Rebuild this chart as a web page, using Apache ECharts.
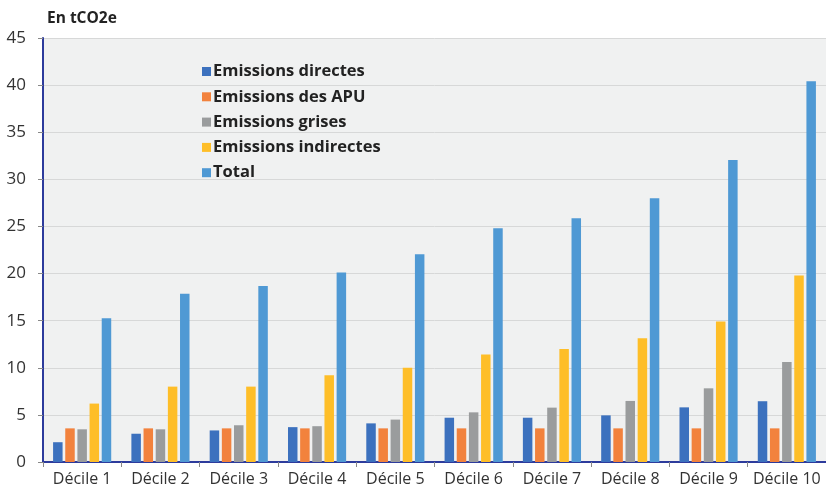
<!DOCTYPE html>
<html><head><meta charset="utf-8">
<script src="https://cdn.jsdelivr.net/npm/echarts@6/dist/echarts.min.js"></script>
<style>html,body{margin:0;padding:0;background:#fff}#c{width:826px;height:491px}</style>
</head><body><div id="c"></div>
<script>
const categories = ['Décile 1','Décile 2','Décile 3','Décile 4','Décile 5','Décile 6','Décile 7','Décile 8','Décile 9','Décile 10'];
const directes   = [2.1, 3.0, 3.35, 3.7, 4.1, 4.7, 4.7, 4.95, 5.8, 6.45];
const apu        = [3.57, 3.57, 3.57, 3.57, 3.57, 3.57, 3.57, 3.57, 3.57, 3.57];
const grises     = [3.47, 3.47, 3.9, 3.8, 4.5, 5.27, 5.77, 6.48, 7.82, 10.6];
const indirectes = [6.2, 8.0, 8.0, 9.2, 10.0, 11.4, 12.0, 13.13, 14.9, 19.8];
const total      = [15.25, 17.85, 18.68, 20.1, 22.05, 24.8, 25.87, 28.0, 32.05, 40.4];
const yTicks = [0,5,10,15,20,25,30,35,40,45];

const names = ['Emissions directes','Emissions des APU','Emissions grises','Emissions indirectes','Total'];
const colors = ['#3C71BE','#F2823D','#9A9C9D','#FEBE28','#4F99D4'];
const values = [directes, apu, grises, indirectes, total];
const FONT = '"Open Sans", "DejaVu Sans", sans-serif';

const chart = echarts.init(document.getElementById('c'), null, {renderer:'canvas'});
chart.setOption({
  backgroundColor:'#fff',
  animation:false,
  title:{text:'En tCO2e', left:42, top:6, textStyle:{fontFamily:FONT, fontSize:15.5, fontWeight:'bold', color:'#222'}},
  legend:{
    orient:'vertical', left:197, top:58, itemWidth:9, itemHeight:9, itemGap:8.3,
    icon:'rect',
    textStyle:{fontFamily:FONT, fontSize:16.5, fontWeight:'bold', color:'#222', lineHeight:15, padding:[0,0,0,-3]},
    data:names
  },
  grid:{left:43, right:0, top:38, bottom:29, show:true, backgroundColor:'#F0F1F1', borderWidth:0},
  xAxis:{
    type:'category', data:categories,
    axisLine:{lineStyle:{color:'#2D3B9C', width:2}},
    axisTick:{show:true, alignWithLabel:false, length:5, lineStyle:{color:'#888'}},
    axisLabel:{fontFamily:FONT, fontSize:16, color:'#333', margin:9, interval:0}
  },
  yAxis:{
    type:'value', min:0, max:45, interval:5,
    axisLine:{show:true, lineStyle:{color:'#2D3B9C', width:2}},
    axisTick:{show:true, length:5, lineStyle:{color:'#888'}},
    axisLabel:{fontFamily:FONT, fontSize:17, color:'#333', margin:17,
      formatter:v=> yTicks.includes(v) ? String(v) : ''},
    splitLine:{lineStyle:{color:'#D7D8D8', width:1}}
  },
  series: names.map((n,i)=>({
    name:n, type:'bar', data:values[i], barWidth:9.5, barGap:'28%',
    itemStyle:{color:colors[i]}
  }))
});
</script></body></html>
